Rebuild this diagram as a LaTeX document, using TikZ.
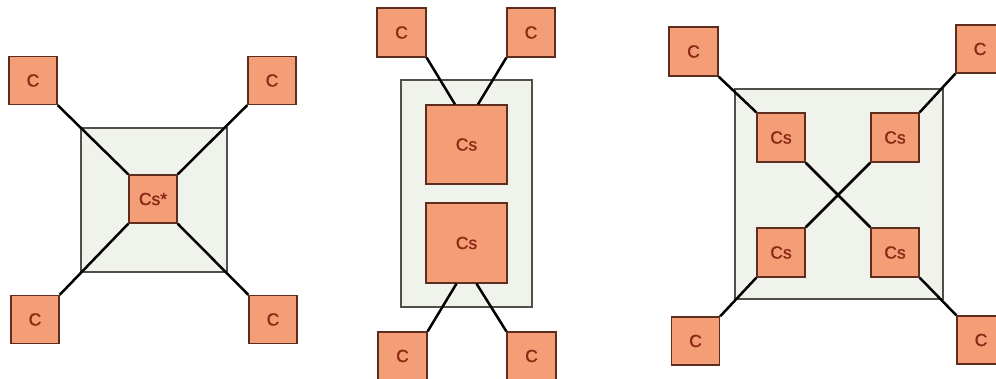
\documentclass[tikz,border=0pt]{standalone}
\usepackage{fontspec}
\setmainfont{Liberation Sans}[AutoFakeBold=1.2]
\definecolor{boxfill}{RGB}{244,158,120}
\definecolor{boxline}{RGB}{95,45,30}
\definecolor{boxtext}{RGB}{140,40,20}
\definecolor{framefill}{RGB}{240,243,236}
\definecolor{frameline}{RGB}{80,80,75}
\tikzset{
  unitbox/.style={draw=boxline, line width=1.3pt, fill=boxfill, text=boxtext,
    inner sep=0pt, font=\fontsize{17.5}{20}\selectfont\bfseries},
  cbox/.style={unitbox, minimum width=48pt, minimum height=48pt},
  csbox/.style={unitbox, minimum width=48pt, minimum height=49pt},
  bigcs/.style={unitbox, minimum width=81pt, minimum height=79pt},
  frame/.style={draw=frameline, line width=1.1pt, fill=framefill, inner sep=0pt},
  link/.style={draw=black, line width=2.5pt},
}
\begin{document}
\begin{tikzpicture}[x=1pt, y=-1pt]
\useasboundingbox (0,0) rectangle (996,378);
\clip (0,0) rectangle (996,378);

% ---- single central Cs* ----
\node[frame, minimum width=146pt, minimum height=144pt] (fa) at (154,200) {};
\node[csbox, minimum height=48pt] (ca) at (153,199) {Cs*};
\node[cbox] (a1) at (33,80.5) {C};
\node[cbox] (a2) at (272,80.5) {C};
\node[cbox] (a3) at (35,319.5) {C};
\node[cbox] (a4) at (273,319.5) {C};
\draw[link] (a1.south east) -- (ca.north west);
\draw[link] (a2.south west) -- (ca.north east);
\draw[link] (a3.north east) -- (ca.south west);
\draw[link] (a4.north west) -- (ca.south east);

% ---- two stacked Cs ----
\node[frame, minimum width=131pt, minimum height=227pt] (fb) at (466.5,193.5) {};
\node[bigcs] (bt) at (466.5,144.5) {Cs};
\node[bigcs, minimum height=80pt] (bb) at (466.5,243) {Cs};
\node[cbox, minimum width=49pt, minimum height=49pt] (b1) at (401.5,32.5) {C};
\node[cbox, minimum height=49pt] (b2) at (531,32.5) {C};
\node[cbox, minimum width=49pt] (b3) at (402.5,356) {C};
\node[cbox, minimum width=49pt] (b4) at (531.5,356) {C};
\draw[link] (b1.south east) -- ([xshift=-11.5pt]bt.north);
\draw[link] (b2.south west) -- ([xshift=11.5pt]bt.north);
\draw[link] (b3.north east) -- ([xshift=-10pt]bb.south);
\draw[link] (b4.north west) -- ([xshift=10pt]bb.south);

% ---- four Cs in a square ----
\node[frame, minimum width=208pt, minimum height=210pt] (fc) at (839,194) {};
\node[csbox] (c1) at (781,137.5) {Cs};
\node[csbox] (c2) at (895,137.5) {Cs};
\node[csbox] (c3) at (781,252.5) {Cs};
\node[csbox] (c4) at (895,252.5) {Cs};
\node[cbox, minimum width=49pt, minimum height=49pt] (d1) at (693.5,51.5) {C};
\node[cbox] (d2) at (980,49) {C};
\node[cbox] (d3) at (695.5,341) {C};
\node[cbox] (d4) at (981,340) {C};
\draw[link] (d1.south east) -- (c1.north west);
\draw[link] (d2.south west) -- (c2.north east);
\draw[link] (d3.north east) -- (c3.south west);
\draw[link] (d4.north west) -- (c4.south east);
\draw[link] (c1.south east) -- (c4.north west);
\draw[link] (c2.south west) -- (c3.north east);
\end{tikzpicture}
\end{document}
